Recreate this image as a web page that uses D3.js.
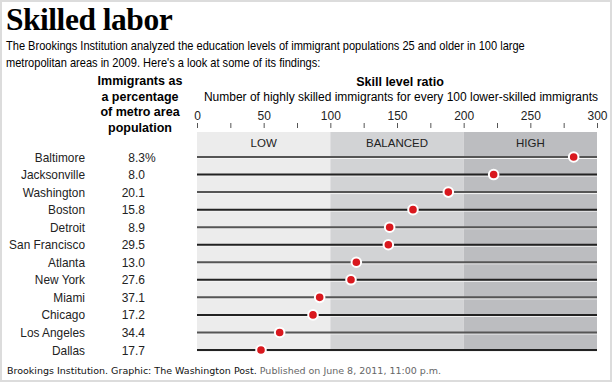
<!DOCTYPE html>
<html>
  <head>
    <meta charset="utf-8">
    <title>Skilled labor</title>
    <script src="https://d3js.org/d3.v7.min.js"></script>
    <style>
      body { margin: 0; background: #fff; }
      svg { display: block; }
      .sans { font-family: "Liberation Sans", Arial, sans-serif; }
    </style>
  </head>
  <body>
    <svg id="chart" width="613" height="383"></svg>
    <script>
      cities = ["Baltimore", "Jacksonville", "Washington", "Boston", "Detroit", "San Francisco",
        "Atlanta", "New York", "Miami", "Chicago", "Los Angeles", "Dallas"];
      shares = ["8.3", "8.0", "20.1", "15.8", "8.9", "29.5", "13.0", "27.6", "37.1", "17.2", "34.4", "17.7"];
      ratios = [282.5, 222.5, 188.5, 162, 144.5, 143.5, 119.5, 115.5, 92, 87, 62, 48];
      bands = [["LOW", 0, 100], ["BALANCED", 100, 200], ["HIGH", 200, 300]];
      bandColors = ["#ececec", "#d2d3d5", "#bcbdc0"];
      tickValues = [0, 50, 100, 150, 200, 250, 300];

      svg = d3.select("#chart");

      // frame
      svg.append("rect")
        .attr("x", 1).attr("y", 1)
        .attr("width", 610).attr("height", 380)
        .attr("fill", "none")
        .attr("stroke", "#dcdcdc")
        .attr("stroke-width", 2);

      // title + intro
      svg.append("text")
        .attr("transform", "translate(6,29.5) scale(0.97,1)")
        .style("font-family", "'Liberation Serif', 'Times New Roman', serif")
        .style("font-weight", "bold")
        .style("font-size", "32.5px")
        .style("letter-spacing", "-0.5px")
        .text("Skilled labor");
      intro = ["The Brookings Institution analyzed the education levels of immigrant populations 25 and older in 100 large",
        "metropolitan areas in 2009. Here's a look at some of its findings:"];
      svg.append("g")
        .attr("transform", "translate(6,0) scale(0.885,1)")
        .selectAll(".intro")
        .data(intro)
        .enter().append("text")
          .attr("class", "intro sans")
          .attr("x", 0)
          .attr("y", function(d, i) { return 50 + i * 17; })
          .style("font-size", "12.5px")
          .text(function(d) { return d; });

      // scales
      x = d3.scaleLinear().domain([0, 300]).range([197, 597]);
      y = d3.scalePoint().domain(cities).range([157, 350]);

      // left header
      svg.selectAll(".lhead")
        .data(["Immigrants as", "a percentage", "of metro area", "population"])
        .enter().append("text")
          .attr("class", "lhead sans")
          .attr("x", 140)
          .attr("y", function(d, i) { return 85 + i * 15.5; })
          .attr("text-anchor", "middle")
          .style("font-size", "12.5px")
          .style("font-weight", "bold")
          .text(function(d) { return d; });

      // right header
      svg.append("text")
        .attr("class", "sans")
        .attr("x", 400).attr("y", 86)
        .attr("text-anchor", "middle")
        .style("font-size", "12.5px")
        .style("font-weight", "bold")
        .text("Skill level ratio");
      svg.append("text")
        .attr("class", "sans")
        .attr("x", 401).attr("y", 101)
        .attr("text-anchor", "middle")
        .style("font-size", "12px")
        .text("Number of highly skilled immigrants for every 100 lower-skilled immigrants");

      // axis
      axis = d3.axisTop(x)
        .tickValues(d3.range(0, 301, 25))
        .tickSize(5)
        .tickFormat(function(d) { return tickValues.includes(d) ? d : ""; });
      axisGroup = svg.append("g")
        .attr("transform", "translate(0,128)")
        .call(axis);
      axisGroup.select(".domain").remove();
      axisGroup.selectAll(".tick line").attr("stroke", "#555");
      axisGroup.selectAll(".tick text")
        .attr("y", -8)
        .attr("fill", "#222")
        .style("font-family", "'Liberation Sans', Arial, sans-serif")
        .style("font-size", "12px");

      // bands
      bandTop = 132;
      bandBottom = 351;
      svg.selectAll(".band")
        .data(bands)
        .enter().append("rect")
          .attr("class", "band")
          .attr("x", function(d) { return x(d[1]); })
          .attr("y", bandTop)
          .attr("width", function(d) { return x(d[2]) - x(d[1]); })
          .attr("height", bandBottom - bandTop)
          .attr("fill", function(d, i) { return bandColors[i]; });
      svg.selectAll(".bandLabel")
        .data(bands)
        .enter().append("text")
          .attr("class", "bandLabel sans")
          .attr("x", function(d) { return (x(d[1]) + x(d[2])) / 2; })
          .attr("y", 147)
          .attr("text-anchor", "middle")
          .attr("fill", "#222")
          .style("font-size", "11.5px")
          .text(function(d) { return d[0]; });

      // rows
      rows = svg.selectAll(".row")
        .data(cities)
        .enter().append("g")
          .attr("class", "row")
          .attr("transform", function(d) { return "translate(0," + y(d) + ")"; });
      rows.append("line")
        .attr("x1", x(0)).attr("x2", x(300))
        .attr("y1", 1.5).attr("y2", 1.5)
        .attr("stroke", "#f4f4f4")
        .attr("stroke-width", 1);
      rows.append("line")
        .attr("x1", x(0)).attr("x2", x(300))
        .attr("stroke", function(d, i) { return i % 2 ? "#222" : "#555"; })
        .attr("stroke-width", 2);
      rows.append("text")
        .attr("class", "sans")
        .attr("transform", "translate(85,4.5) scale(0.95,1)")
        .attr("text-anchor", "end")
        .attr("fill", "#222")
        .style("font-size", "12.5px")
        .text(function(d) { return d; });
      rows.append("text")
        .attr("class", "sans")
        .attr("x", 145).attr("y", 4.5)
        .attr("text-anchor", "end")
        .attr("fill", "#222")
        .style("font-size", "12px")
        .text(function(d, i) { return shares[i]; });
      rows.filter(function(d, i) { return i == 0; })
        .append("text")
          .attr("class", "sans")
          .attr("x", 145).attr("y", 4.5)
          .attr("fill", "#222")
          .style("font-size", "12px")
          .text("%");
      rows.append("circle")
        .attr("cx", function(d, i) { return x(ratios[i]); })
        .attr("r", 4.8)
        .attr("fill", "#d9181e")
        .attr("stroke", "#fff")
        .attr("stroke-width", 2);

      // credits
      credit = svg.append("text")
        .attr("x", 7).attr("y", 374)
        .style("font-family", "'DejaVu Sans', Verdana, sans-serif")
        .style("font-size", "9.5px");
      credit.append("tspan")
        .attr("fill", "#111")
        .text("Brookings Institution. Graphic: The Washington Post.");
      credit.append("tspan")
        .attr("fill", "#666")
        .text(" Published on June 8, 2011, 11:00 p.m.");
    </script>
  </body>
</html>
